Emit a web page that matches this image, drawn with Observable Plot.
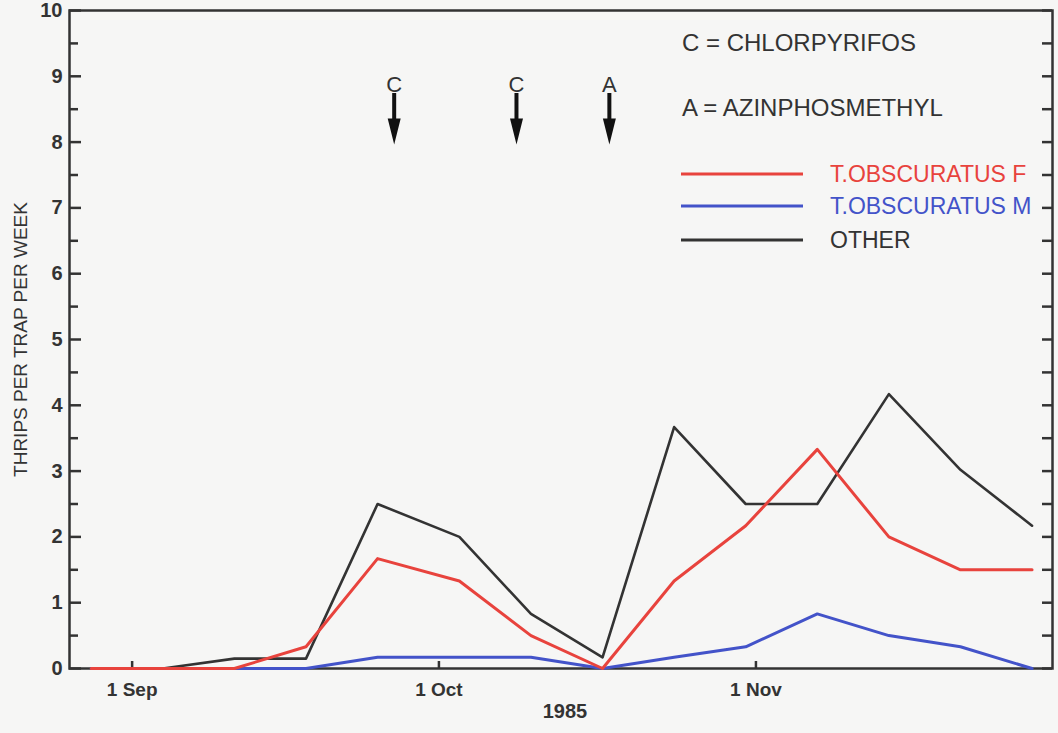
<!DOCTYPE html>
<html><head><meta charset="utf-8">
<script src="https://cdn.jsdelivr.net/npm/d3@7"></script>
<script src="https://cdn.jsdelivr.net/npm/@observablehq/plot@0.6"></script>
<style>
html,body{margin:0;padding:0;background:#f6f6f5;}
#chart svg{display:block}
</style></head><body><div id="chart"></div>
<script>
// ---- data ----
const sampleDates = ["1985-08-28","1985-09-04","1985-09-11","1985-09-18","1985-09-25","1985-10-03","1985-10-10","1985-10-17","1985-10-24","1985-10-31","1985-11-07","1985-11-14","1985-11-21","1985-11-28"];
const femaleValues = [0, 0, 0, 0.33, 1.67, 1.33, 0.5, 0, 1.33, 2.17, 3.33, 2.0, 1.5, 1.5];
const maleValues   = [0, 0, 0, 0, 0.17, 0.17, 0.17, 0, 0.17, 0.33, 0.83, 0.5, 0.33, 0];
const otherValues  = [0, 0, 0.15, 0.15, 2.5, 2.0, 0.83, 0.17, 3.67, 2.5, 2.5, 4.17, 3.02, 2.17];
const seriesNames  = ["T.OBSCURATUS F", "T.OBSCURATUS M", "OTHER"];
const seriesColors = ["#e8433d", "#4353c9", "#333333"];
const sprayLetters = ["C", "C", "A"];
const sprayDates   = ["1985-09-26T15:00Z", "1985-10-08T14:00Z", "1985-10-17T16:00Z"];
const legendNotes  = ["C = CHLORPYRIFOS", "A = AZINPHOSMETHYL"];
const xTickDates   = ["1985-09-01", "1985-10-01", "1985-11-01"];
const xTickLabels  = ["1 Sep", "1 Oct", "1 Nov"];
const yTicks       = [0,1,2,3,4,5,6,7,8,9,10];
const yMinorTicks  = [0.5,1.5,2.5,3.5,4.5,5.5,6.5,7.5,8.5,9.5];
const yLabel = "THRIPS PER TRAP PER WEEK";
const xLabel = "1985";

// ---- build table ----
const valueSets = [femaleValues, maleValues, otherValues];
const rows = [];
valueSets.forEach((vals, s) => vals.forEach((v, i) => rows.push({date: new Date(sampleDates[i]), value: v, series: seriesNames[s]})));
const sprays = sprayDates.map((d, i) => ({date: new Date(d), letter: sprayLetters[i]}));
const xTicks = xTickDates.map(d => new Date(d));
const tickLabel = new Map(xTickDates.map((d, i) => [+new Date(d), xTickLabels[i]]));

const W = 1058, H = 733, mL = 69, mR = 6, mT = 10, mB = 65;
const fw = W - mL - mR, fh = H - mT - mB;
const FONT = '"Liberation Sans", Arial, sans-serif';
const INK = "#333333";

const downTriangle = {draw(ctx) { ctx.moveTo(-6.5, -13); ctx.lineTo(6.5, -13); ctx.lineTo(0, 13); ctx.closePath(); }};

const bySeries = name => rows.filter(r => r.series === name);

const chart = Plot.plot({
  width: W, height: H,
  marginLeft: mL, marginRight: mR, marginTop: mT, marginBottom: mB,
  style: {background: "transparent", fontFamily: FONT, color: INK},
  x: {type: "utc", domain: [new Date("1985-08-25T21:00Z"), new Date("1985-11-30T00:00Z")]},
  y: {domain: [0, 10]},
  marks: [
    Plot.frame({stroke: INK, strokeWidth: 2.5}),
    // inward ticks
    Plot.ruleY(yTicks, {y: d => d, insetRight: fw - 12, stroke: INK, strokeWidth: 2.5}),
    Plot.ruleY(yMinorTicks, {y: d => d, insetRight: fw - 9, stroke: INK, strokeWidth: 2.5}),
    Plot.ruleY(yTicks.concat(yMinorTicks), {y: d => d, insetLeft: fw - 10, stroke: INK, strokeWidth: 2.5}),
    Plot.ruleX(xTicks, {x: d => d, insetTop: fh - 7, stroke: INK, strokeWidth: 2.5}),
    Plot.axisY(yTicks, {tickSize: 0, tickPadding: 7, fontSize: 20, fontWeight: "bold", label: null, fill: INK, tickFormat: d => String(d)}),
    Plot.axisX(xTicks, {tickSize: 0, tickPadding: 14, fontSize: 19, fontWeight: "bold", label: null, fill: INK, tickFormat: d => tickLabel.get(+d)}),
    Plot.text([yLabel], {text: d => d, frameAnchor: "left", textAnchor: "middle", rotate: -90, dx: -49, fontSize: 19, fill: INK}),
    Plot.text([xLabel], {text: d => d, frameAnchor: "bottom", dy: 49, dx: 4, fontSize: 20, fontWeight: "bold", fill: INK}),
    // data lines
    Plot.line(bySeries(seriesNames[2]), {x: "date", y: "value", stroke: seriesColors[2], strokeWidth: 2.6}),
    Plot.line(bySeries(seriesNames[1]), {x: "date", y: "value", stroke: seriesColors[1], strokeWidth: 3}),
    Plot.line(bySeries(seriesNames[0]), {x: "date", y: "value", stroke: seriesColors[0], strokeWidth: 3}),
    // spray arrows
    Plot.ruleX(sprays, {x: "date", insetTop: 83, insetBottom: fh - 112, stroke: "#111", strokeWidth: 4}),
    Plot.dot(sprays, {x: "date", frameAnchor: "top", dy: 121, symbol: downTriangle, fill: "#111", stroke: "none"}),
    Plot.text(sprays, {x: "date", text: "letter", frameAnchor: "top", dy: 66, fontSize: 22, fontWeight: 500, fill: INK})
  ]
});

// legend
const svg = d3.select(chart);
const lg = svg.append("g").attr("font-family", FONT).attr("fill", INK).attr("text-anchor", "start");
const noteY = [43, 108];
legendNotes.forEach((t, i) => lg.append("text").attr("x", 682).attr("y", noteY[i]).attr("dy", "0.35em").attr("font-size", 24).text(t));
const rowY = [174, 206, 240];
seriesNames.forEach((n, i) => {
  lg.append("line").attr("x1", 681).attr("x2", 803).attr("y1", rowY[i]).attr("y2", rowY[i])
    .attr("stroke", seriesColors[i]).attr("stroke-width", 3);
  lg.append("text").attr("x", 830).attr("y", rowY[i]).attr("dy", "0.35em")
    .attr("fill", seriesColors[i]).attr("font-size", 23).text(n);
});

document.getElementById("chart").append(chart);
</script>
</body></html>
